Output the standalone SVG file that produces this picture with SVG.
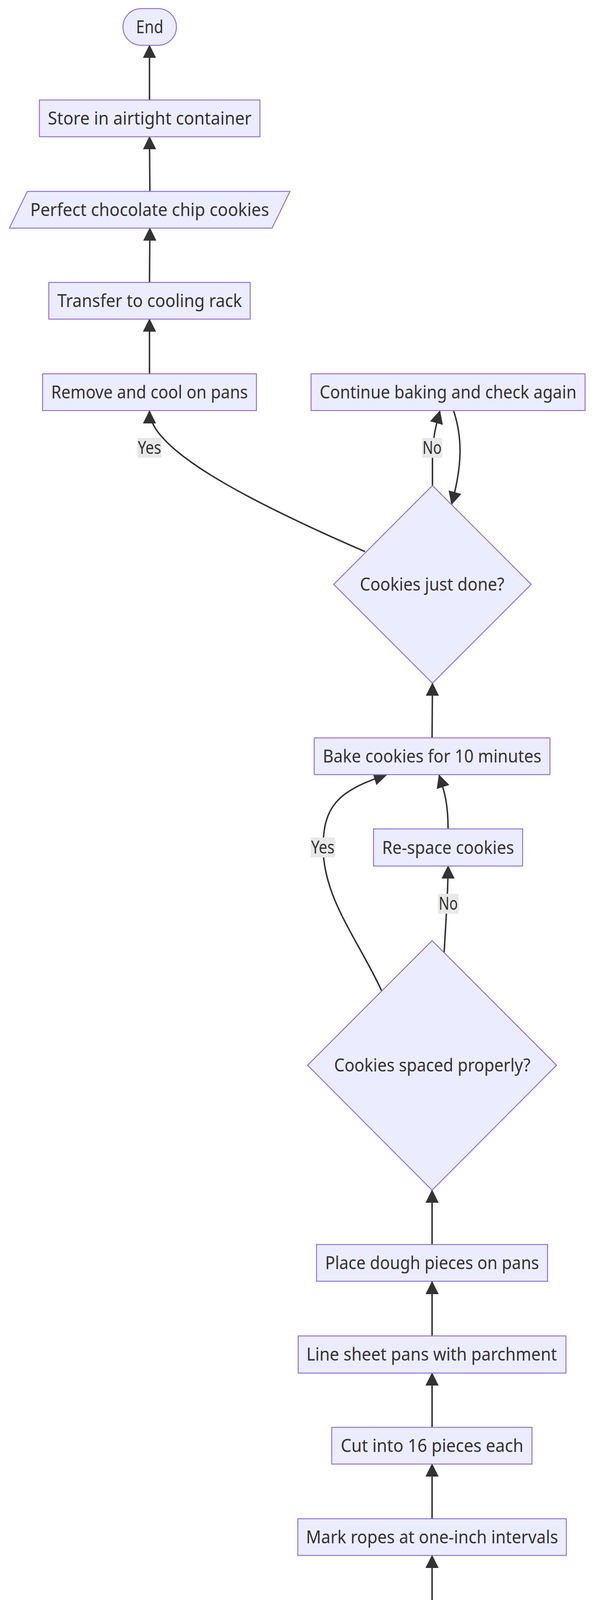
<svg xmlns="http://www.w3.org/2000/svg" width="1568" height="7298" viewBox="0 0 1568 7298">
<defs>
<style>
.n rect, .n polygon { fill: #ECECFF; stroke: #9370DB; stroke-width: 2.5; }
.t { font-family: "Noto Sans", "Open Sans", "Liberation Sans", sans-serif; font-size: 45px; fill: #333333; text-anchor: middle; }
.e path { fill: none; stroke: #333333; stroke-width: 3.8; marker-end: url(#arr); }
.lb rect { fill: #e8e8e8; }
</style>
<marker id="arr" markerUnits="userSpaceOnUse" markerWidth="34" markerHeight="34" viewBox="0 0 10 10" refX="9.5" refY="5" orient="auto">
<path d="M0,0 L10,5 L0,10 z" fill="#333333"/>
</marker>
</defs>
<rect x="0" y="0" width="1568" height="7298" fill="#ffffff"/>

<g id="edges" class="e">
<path d="M1107,7107 L1108,6968"/>
<path d="M1108,6872 L1107,6734"/>
<path d="M1107,6639 L1107,6500"/>
<path d="M1108,6405 L1108,6266"/>
<path d="M1108,6171 L1107,6032"/>
<path d="M1107,5938 L1107,5799"/>
<path d="M1107,5704 L1108,5566"/>
<path d="M947,5265 C617,5122 393.5,5010 393.5,4917"/>
<path d="M1135,5133 C1140,5070 1148,5000 1148,4917"/>
<path d="M393.5,4822 C393.5,4760 450,4745 600,4715 C700,4697 800,4688 870,4677"/>
<path d="M1148,4822 C1148,4770 1140,4740 1128,4684"/>
<path d="M1108,4589 L1107,4449"/>
<path d="M1107,4355 L1107,4216"/>
<path d="M1107,4122 L1107,3982"/>
<path d="M1107,3888 L1107,3748"/>
<path d="M1107,3654 L1107,3515"/>
<path d="M1107,3420 L1107,3281"/>
<path d="M1107,3186 L1107,3047"/>
<path d="M1138,2438 C1142,2360 1148,2290 1148,2217"/>
<path d="M978,2537 C920,2410 828,2300 828,2170 C828,2070 860,2025 990,1984"/>
<path d="M1148,2122 C1148,2060 1140,2030 1125,1984"/>
<path d="M1107,1888 L1108,1749"/>
<path d="M1108,1243 L1108,1170 C1108,1130 1115,1095 1127,1052"/>
<path d="M1162,1051 C1185,1120 1185,1190 1157,1291"/>
<path d="M935,1412 C605,1269 383,1145 383,1052"/>
<path d="M383,957 L383,817"/>
<path d="M383,722 L384,584"/>
<path d="M384,490 L383,350"/>
<path d="M383,256 L383,116"/>
</g>

<g id="edge-labels" class="lb">
<g id="lbl-yes-done"><rect x="352" y="1121" width="62" height="51"/><text class="t" x="383" y="1162" textLength="60" lengthAdjust="spacingAndGlyphs">Yes</text></g>
<g id="lbl-no-done"><rect x="1081" y="1121" width="52" height="51"/><text class="t" x="1107" y="1162" textLength="49" lengthAdjust="spacingAndGlyphs">No</text></g>
<g id="lbl-yes-spaced"><rect x="796" y="2144" width="62" height="51"/><text class="t" x="827" y="2185" textLength="60" lengthAdjust="spacingAndGlyphs">Yes</text></g>
<g id="lbl-no-spaced"><rect x="1122" y="2288" width="53" height="51"/><text class="t" x="1148.5" y="2329" textLength="49" lengthAdjust="spacingAndGlyphs">No</text></g>
<g id="lbl-yes-walnuts"><rect x="362" y="4987" width="63" height="51"/><text class="t" x="393.5" y="5028" textLength="60" lengthAdjust="spacingAndGlyphs">Yes</text></g>
<g id="lbl-no-walnuts"><rect x="1122" y="4987" width="53" height="51"/><text class="t" x="1148.5" y="5028" textLength="49" lengthAdjust="spacingAndGlyphs">No</text></g>
</g>

<g id="End" class="n"><rect x="315" y="22" width="137" height="94" rx="47" ry="47"/><text class="t" x="383.5" y="85" textLength="70" lengthAdjust="spacingAndGlyphs">End</text></g>
<g id="Store" class="n"><rect x="101" y="256" width="565" height="94"/><text class="t" x="383.5" y="319" textLength="522" lengthAdjust="spacingAndGlyphs">Store in airtight container</text></g>
<g id="Perfect" class="n"><polygon points="70,490 743,490 697,584 24,584"/><text class="t" x="383.5" y="553" textLength="612" lengthAdjust="spacingAndGlyphs">Perfect chocolate chip cookies</text></g>
<g id="Transfer" class="n"><rect x="125" y="723" width="516" height="94"/><text class="t" x="383.5" y="786" textLength="473" lengthAdjust="spacingAndGlyphs">Transfer to cooling rack</text></g>
<g id="Remove" class="n"><rect x="109" y="957" width="548" height="94"/><text class="t" x="383" y="1020" textLength="504" lengthAdjust="spacingAndGlyphs">Remove and cool on pans</text></g>
<g id="Continue" class="n"><rect x="797" y="957" width="702" height="94"/><text class="t" x="1148" y="1020" textLength="658" lengthAdjust="spacingAndGlyphs">Continue baking and check again</text></g>
<g id="JustDone" class="n"><polygon points="1108,1243 1361,1496 1108,1749 855,1496"/><text class="t" x="1107" y="1512" textLength="370" lengthAdjust="spacingAndGlyphs">Cookies just done?</text></g>
<g id="Bake" class="n"><rect x="805" y="1889" width="604" height="94"/><text class="t" x="1107" y="1952" textLength="560" lengthAdjust="spacingAndGlyphs">Bake cookies for 10 minutes</text></g>
<g id="Respace" class="n"><rect x="957" y="2122" width="382" height="95"/><text class="t" x="1148" y="2186" textLength="338" lengthAdjust="spacingAndGlyphs">Re-space cookies</text></g>
<g id="Spaced" class="n"><polygon points="1107,2408 1426,2727 1107,3047 788,2727"/><text class="t" x="1107.5" y="2743" textLength="503" lengthAdjust="spacingAndGlyphs">Cookies spaced properly?</text></g>
<g id="Place" class="n"><rect x="811" y="3186" width="592" height="94"/><text class="t" x="1107" y="3249" textLength="548" lengthAdjust="spacingAndGlyphs">Place dough pieces on pans</text></g>
<g id="Line" class="n"><rect x="764" y="3420" width="686" height="95"/><text class="t" x="1106" y="3483" textLength="642" lengthAdjust="spacingAndGlyphs">Line sheet pans with parchment</text></g>
<g id="Cut" class="n"><rect x="850" y="3654" width="513" height="94"/><text class="t" x="1107" y="3717" textLength="468" lengthAdjust="spacingAndGlyphs">Cut into 16 pieces each</text></g>
<g id="Mark" class="n"><rect x="763" y="3888" width="688" height="94"/><text class="t" x="1107" y="3951" textLength="646" lengthAdjust="spacingAndGlyphs">Mark ropes at one-inch intervals</text></g>
<g id="Roll" class="n"><rect x="861" y="4122" width="492" height="94"/><text class="t" x="1107" y="4185" textLength="448" lengthAdjust="spacingAndGlyphs">Roll into 16-inch ropes</text></g>
<g id="Divide" class="n"><rect x="822" y="4355" width="570" height="94"/><text class="t" x="1107" y="4418" textLength="526" lengthAdjust="spacingAndGlyphs">Divide dough into 3 pieces</text></g>
<g id="Dough" class="n"><polygon points="914,4589 1347,4589 1300,4683 867,4683"/><text class="t" x="1107" y="4652" textLength="374" lengthAdjust="spacingAndGlyphs">Dough forms a ball</text></g>
<g id="StirWalnuts" class="n"><rect x="22" y="4822" width="743" height="95"/><text class="t" x="393.5" y="4886" textLength="700" lengthAdjust="spacingAndGlyphs">Stir in chocolate chips and walnuts</text></g>
<g id="StirChips" class="n"><rect x="904" y="4822" width="488" height="95"/><text class="t" x="1148" y="4886" textLength="444" lengthAdjust="spacingAndGlyphs">Stir in chocolate chips</text></g>
<g id="Walnuts" class="n"><polygon points="1107,5108 1336,5337 1107,5566 878,5337"/><text class="t" x="1108" y="5353" textLength="320" lengthAdjust="spacingAndGlyphs">Adding walnuts?</text></g>
<g id="Mix" class="n"><rect x="779" y="5704" width="657" height="95"/><text class="t" x="1107" y="5768" textLength="614" lengthAdjust="spacingAndGlyphs">Mix dry ingredients into batter</text></g>
<g id="Sift" class="n"><rect x="773" y="5938" width="668" height="94"/><text class="t" x="1107" y="6001" textLength="624" lengthAdjust="spacingAndGlyphs">Sift flour, baking soda, and salt</text></g>
<g id="Eggs" class="n"><polygon points="897,6171 1365,6171 1318,6266 849,6266"/><text class="t" x="1107" y="6235" textLength="408" lengthAdjust="spacingAndGlyphs">Add eggs and vanilla</text></g>
<g id="Beat" class="n"><rect x="858" y="6406" width="498" height="94"/><text class="t" x="1107.5" y="6469" textLength="455" lengthAdjust="spacingAndGlyphs">Beat butter and sugars</text></g>
<g id="Preheat" class="n"><rect x="685" y="6639" width="845" height="95"/><text class="t" x="1107" y="6703" textLength="800" lengthAdjust="spacingAndGlyphs">Preheat oven to 375 degrees Fahrenheit</text></g>
<g id="Gather" class="n"><polygon points="757,6872 1505,6872 1458,6967 709,6967"/><text class="t" x="1107" y="6936" textLength="688" lengthAdjust="spacingAndGlyphs">Gather Ingredients and Equipment</text></g>
<g id="Start" class="n"><rect x="1026" y="7107" width="162" height="94" rx="47" ry="47"/><text class="t" x="1107.5" y="7170" textLength="97" lengthAdjust="spacingAndGlyphs">Start</text></g>
</svg>
